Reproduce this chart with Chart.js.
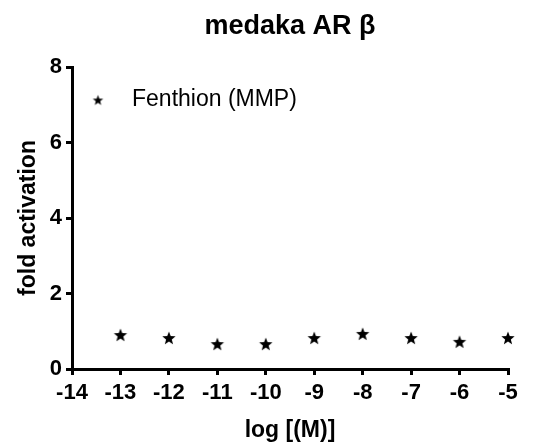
<!DOCTYPE html>
<html>
<head>
<meta charset="utf-8">
<script src="https://cdn.jsdelivr.net/npm/chart.js@4"></script>
<style>
  html, body { margin: 0; padding: 0; background: #fff; }
  #wrap { width: 542px; height: 445px; }
</style>
</head>
<body>
<div id="wrap"><canvas id="c" width="542" height="445"></canvas></div>
<script>
const chartTitle = 'medaka AR \u03B2';
const seriesLabel = 'Fenthion (MMP)';
const logConc = [-13, -12, -11, -10, -9, -8, -7, -6, -5];
const foldActivation = [0.90, 0.82, 0.66, 0.66, 0.82, 0.93, 0.82, 0.72, 0.82];
const xTicks = [-14, -13, -12, -11, -10, -9, -8, -7, -6, -5];
const yTicks = [0, 2, 4, 6, 8];
const xTitle = 'log [(M)]';
const yTitle = 'fold activation';

const FONT = "Arial, 'Liberation Sans', Helvetica, sans-serif";

function makeStar(outer, inner) {
  const size = Math.ceil(outer * 2 + 2);
  const cv = document.createElement('canvas');
  cv.width = size; cv.height = size;
  const g = cv.getContext('2d');
  const cx = size / 2, cy = size / 2 + 0.5;
  g.beginPath();
  for (let i = 0; i < 10; i++) {
    const r = i % 2 === 0 ? outer : inner;
    const a = -Math.PI / 2 + i * Math.PI / 5;
    const px = cx + r * Math.cos(a), py = cy + r * Math.sin(a);
    if (i === 0) g.moveTo(px, py); else g.lineTo(px, py);
  }
  g.closePath();
  g.fillStyle = '#000';
  g.fill();
  return cv;
}
const dataStar = makeStar(7, 3);
const legendStar = makeStar(5.5, 2.3);

const layoutFix = {
  id: 'layoutFix',
  afterLayout(chart) {
    const t = chart.titleBlock;
    if (t) {
      t.left = chart.chartArea.left;
      t.right = chart.chartArea.right;
      t.width = t.right - t.left;
    }
  }
};

const innerLegend = {
  id: 'innerLegend',
  afterDatasetsDraw(chart) {
    const ctx = chart.ctx;
    const a = chart.chartArea;
    const ds = chart.data.datasets[0];
    const sx = a.left + 26, sy = a.top + 33;
    ctx.save();
    ctx.drawImage(legendStar, sx - legendStar.width / 2, sy - legendStar.height / 2);
    ctx.fillStyle = '#000';
    ctx.font = '23px ' + FONT;
    ctx.textAlign = 'left';
    ctx.textBaseline = 'middle';
    ctx.fillText(ds.label, a.left + 60, sy);
    ctx.restore();
  }
};

new Chart(document.getElementById('c'), {
  type: 'scatter',
  data: {
    datasets: [{
      label: seriesLabel,
      data: logConc.map((x, i) => ({ x: x, y: foldActivation[i] })),
      pointStyle: dataStar,
      showLine: false,
      clip: false
    }]
  },
  options: {
    responsive: false,
    animation: false,
    events: [],
    layout: { padding: { left: 0, right: 34, top: 0, bottom: 0 } },
    plugins: {
      legend: { display: false },
      tooltip: { enabled: false },
      title: {
        display: true,
        text: chartTitle,
        color: '#000',
        font: { family: FONT, size: 27, weight: 'bold' },
        padding: { top: 10, bottom: 24.6 }
      }
    },
    scales: {
      x: {
        type: 'linear',
        min: -14, max: -5,
        afterBuildTicks(s) { s.ticks = xTicks.map(v => ({ value: v })); },
        afterFit(s) { s.height = 76; },
        ticks: {
          color: '#000',
          font: { family: FONT, size: 22, weight: 'bold' },
          padding: 5,
          maxRotation: 0,
          autoSkip: false
        },
        grid: { display: true, drawOnChartArea: false, drawTicks: true, tickLength: 6, lineWidth: 3, color: '#000' },
        border: { display: true, width: 3, color: '#000' },
        title: {
          display: true, text: xTitle, color: '#000',
          font: { family: FONT, size: 23, weight: 'bold' },
          padding: 1
        }
      },
      y: {
        type: 'linear',
        min: 0, max: 8,
        afterBuildTicks(s) { s.ticks = yTicks.map(v => ({ value: v })); },
        afterFit(s) { s.width = 72; },
        ticks: {
          color: '#000',
          font: { family: FONT, size: 22, weight: 'bold' },
          padding: 4
        },
        grid: { display: true, drawOnChartArea: false, drawTicks: true, tickLength: 6, lineWidth: 3, color: '#000' },
        border: { display: true, width: 3, color: '#000' },
        title: {
          display: true, text: yTitle, color: '#000',
          font: { family: FONT, size: 23, weight: 'bold' },
          padding: 15
        }
      }
    }
  },
  plugins: [layoutFix, innerLegend]
});
</script>
</body>
</html>
